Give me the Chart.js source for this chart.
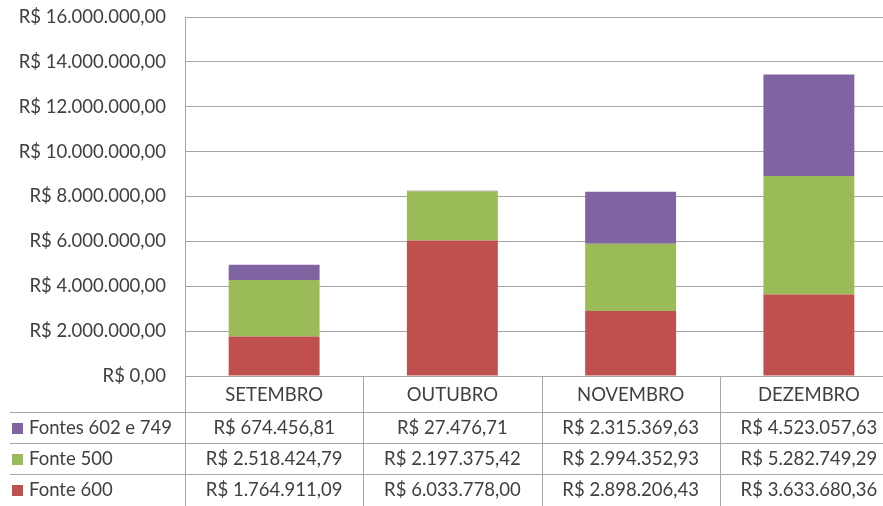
<!DOCTYPE html>
<html>
<head>
<meta charset="utf-8">
<script src="https://cdn.jsdelivr.net/npm/chart.js@4/dist/chart.umd.min.js"></script>
<style>
  html, body { margin: 0; padding: 0; background: #fff; overflow: hidden; }
  #wrap { width: 898px; height: 506px; position: relative; }
</style>
</head>
<body>
<div id="wrap"><canvas id="chart"></canvas></div>
<script>
// dados do gráfico
const meses = ['SETEMBRO', 'OUTUBRO', 'NOVEMBRO', 'DEZEMBRO'];
const fonte600 = [1764911.09, 6033778.00, 2898206.43, 3633680.36];
const fonte500 = [2518424.79, 2197375.42, 2994352.93, 5282749.29];
const fontes602e749 = [674456.81, 27476.71, 2315369.63, 4523057.63];
const yMax = 16000000;
const yStep = 2000000;

const FONT = 'Lato, "Open Sans", sans-serif';
const FSIZE = 18.5;
const TEXT = '#404040';
const LINE = '#a6a6a6';

// formata em reais: R$ 1.234.567,89
function brl(v) {
    const [int, dec] = Math.abs(v).toFixed(2).split('.');
    return 'R$ ' + int.replace(/\B(?=(\d{3})+(?!\d))/g, '.') + ',' + dec;
}

// ordem da tabela (de cima para baixo)
const linhas = [
    { label: 'Fontes 602 e 749', data: fontes602e749, color: '#8064A2' },
    { label: 'Fonte 500', data: fonte500, color: '#9BBB59' },
    { label: 'Fonte 600', data: fonte600, color: '#C0504D' }
];

// tabela de dados abaixo do eixo x
const tabelaPlugin = {
    id: 'tabela',
    afterDraw(chart) {
        const { ctx, chartArea, scales } = chart;
        const x = scales.x;
        const bottom = chartArea.bottom;
        const colW = x.width / meses.length;
        const headerH = 36;
        const rowH = 31;
        const rowTops = [bottom + headerH, bottom + headerH + rowH, bottom + headerH + rowH * 2];

        ctx.save();
        ctx.strokeStyle = LINE;
        ctx.lineWidth = 1;

        // linhas horizontais
        rowTops.forEach(y => {
            ctx.beginPath();
            ctx.moveTo(10, Math.round(y) + 0.5);
            ctx.lineTo(chart.width, Math.round(y) + 0.5);
            ctx.stroke();
        });

        // linhas verticais
        for (let i = 0; i <= meses.length; i++) {
            const lx = Math.round(x.left + colW * i) + 0.5;
            ctx.beginPath();
            ctx.moveTo(lx, bottom);
            ctx.lineTo(lx, chart.height);
            ctx.stroke();
        }

        ctx.font = FSIZE + 'px ' + FONT;
        ctx.fillStyle = TEXT;
        ctx.textBaseline = 'middle';
        ctx.textAlign = 'center';

        // cabeçalho (meses)
        meses.forEach((m, i) => {
            ctx.fillText(m, x.getPixelForValue(i), bottom + headerH / 2 + 1);
        });

        // linhas de valores + legenda
        linhas.forEach((l, r) => {
            const cy = rowTops[r] + rowH / 2 + 1;
            ctx.fillStyle = l.color;
            ctx.fillRect(12, Math.round(cy - 6), 11, 11);
            ctx.fillStyle = TEXT;
            ctx.textAlign = 'left';
            ctx.fillText(l.label, 29, cy);
            ctx.textAlign = 'center';
            l.data.forEach((v, i) => {
                ctx.fillText(brl(v), x.getPixelForValue(i), cy);
            });
        });
        ctx.restore();
    }
};

new Chart(document.getElementById('chart'), {
    type: 'bar',
    data: {
        labels: meses,
        datasets: [
            { label: 'Fonte 600', data: fonte600, backgroundColor: '#C0504D' },
            { label: 'Fonte 500', data: fonte500, backgroundColor: '#9BBB59' },
            { label: 'Fontes 602 e 749', data: fontes602e749, backgroundColor: '#8064A2' }
        ]
    },
    options: {
        responsive: true,
        maintainAspectRatio: false,
        animation: false,
        layout: { padding: { top: 17, bottom: 130, left: 0, right: 0 } },
        datasets: { bar: { categoryPercentage: 1, barPercentage: 0.51 } },
        plugins: { legend: { display: false }, tooltip: { enabled: false } },
        scales: {
            x: {
                stacked: true,
                afterFit(scale) { scale.height = 0; },
                grid: { display: false },
                border: { display: true, color: LINE },
                ticks: { display: false }
            },
            y: {
                stacked: true,
                min: 0,
                max: yMax,
                afterFit(scale) {
                    scale.width = 185;
                    scale.paddingTop = 0;
                    scale.paddingBottom = 0;
                },
                ticks: {
                    stepSize: yStep,
                    padding: 19,
                    color: TEXT,
                    font: { family: FONT, size: FSIZE },
                    callback: v => brl(v)
                },
                grid: { color: LINE, drawTicks: false },
                border: { display: true, color: LINE }
            }
        }
    },
    plugins: [tabelaPlugin]
});
</script>
</body>
</html>
